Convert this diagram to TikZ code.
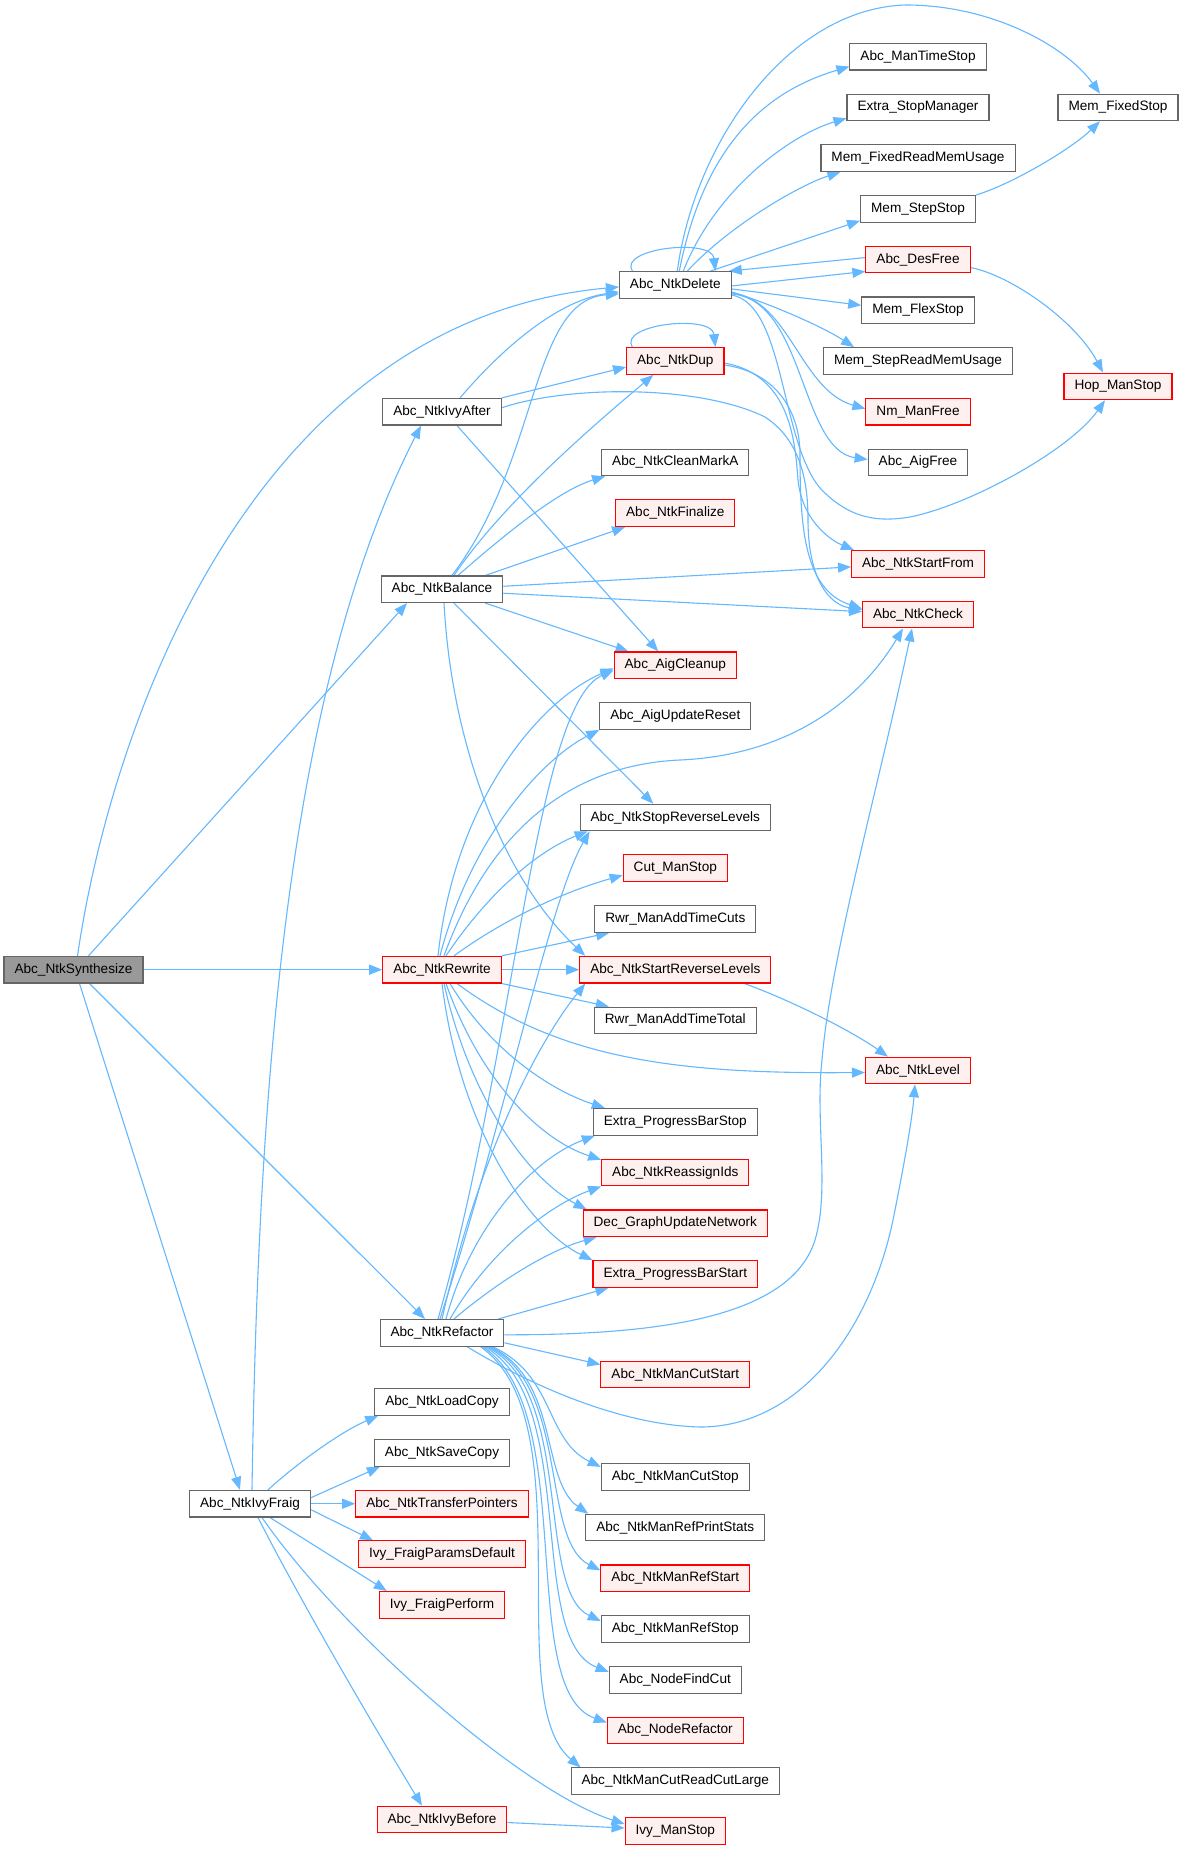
\documentclass[tikz,border=0pt]{standalone}
\usepackage{fontspec}
\setmainfont{Liberation Sans}
\usetikzlibrary{arrows.meta}
\definecolor{edgeblue}{RGB}{99,184,255}
\definecolor{boxgray}{RGB}{102,102,102}
\definecolor{redfill}{RGB}{255,240,240}
\definecolor{rootfill}{RGB}{153,153,153}
\pgfdeclarelayer{bg}
\pgfsetlayers{bg,main}
\tikzset{
  basebox/.style={draw, line width=1.1pt, minimum height=26.6pt, inner xsep=10.5pt, inner ysep=0pt,
    text height=10pt, text depth=3pt, font=\fontsize{13.6}{16}\selectfont},
  fn/.style={basebox, draw=boxgray, fill=white},
  fr/.style={basebox, draw=red, fill=redfill},
  froot/.style={basebox, draw=boxgray, fill=rootfill},
  cedge/.style={draw=edgeblue, line width=1.1pt, -{Triangle[length=13pt,width=10pt]}},
}
\begin{document}
\begin{tikzpicture}[x=1pt,y=-1pt]
\useasboundingbox (0,0) rectangle (1182,1849);
% column 1
\node[froot] (synth) at (73.5,969.66) {Abc\_NtkSynthesize};
\node[fn] (ivyfraig) at (250,1503.7) {Abc\_NtkIvyFraig};
% column 2
\node[fn] (ivyafter) at (442,411.74) {Abc\_NtkIvyAfter};
\node[fn] (balance) at (442,589.26) {Abc\_NtkBalance};
\node[fr] (rewrite) at (442,969.66) {Abc\_NtkRewrite};
\node[fn] (refactor) at (442,1332.8) {Abc\_NtkRefactor};
\node[fn] (loadcopy) at (442,1401.9) {Abc\_NtkLoadCopy};
\node[fn] (savecopy) at (442,1452.9) {Abc\_NtkSaveCopy};
\node[fr] (transfer) at (442,1503.7) {Abc\_NtkTransferPointers};
\node[fr] (fparams) at (442,1554.2) {Ivy\_FraigParamsDefault};
\node[fr] (fperform) at (442,1604.8) {Ivy\_FraigPerform};
\node[fr] (ivybefore) at (442,1819.5) {Abc\_NtkIvyBefore};
% column 3
\node[fn] (delete) at (675.3,284.94) {Abc\_NtkDelete};
\node[fr] (dup) at (675.3,361.02) {Abc\_NtkDup};
\node[fn] (cleanmarka) at (675.3,462.46) {Abc\_NtkCleanMarkA};
\node[fr] (finalize) at (675.3,513.18) {Abc\_NtkFinalize};
\node[fr] (aigcleanup) at (675.3,665.34) {Abc\_AigCleanup};
\node[fn] (aigupdatereset) at (675.3,716.06) {Abc\_AigUpdateReset};
\node[fn] (stoprev) at (675.3,817.5) {Abc\_NtkStopReverseLevels};
\node[fr] (cutmanstop) at (675.3,868.22) {Cut\_ManStop};
\node[fn] (addtimecuts) at (675.3,918.94) {Rwr\_ManAddTimeCuts};
\node[fr] (startrev) at (675.3,969.66) {Abc\_NtkStartReverseLevels};
\node[fn] (addtimetotal) at (675.3,1020.38) {Rwr\_ManAddTimeTotal};
\node[fn] (pbstop) at (675.3,1121.82) {Extra\_ProgressBarStop};
\node[fr] (reassign) at (675.3,1172.54) {Abc\_NtkReassignIds};
\node[fr] (decgraph) at (675.3,1223.26) {Dec\_GraphUpdateNetwork};
\node[fr] (pbstart) at (675.3,1273.98) {Extra\_ProgressBarStart};
\node[fr] (mancutstart) at (675.3,1374.5) {Abc\_NtkManCutStart};
\node[fn] (mancutstop) at (675.3,1476.86) {Abc\_NtkManCutStop};
\node[fn] (refprint) at (675.3,1527.58) {Abc\_NtkManRefPrintStats};
\node[fr] (refstart) at (675.3,1578.3) {Abc\_NtkManRefStart};
\node[fn] (refstop) at (675.3,1629.02) {Abc\_NtkManRefStop};
\node[fn] (nodefindcut) at (675.3,1679.74) {Abc\_NodeFindCut};
\node[fr] (noderefactor) at (675.3,1730.46) {Abc\_NodeRefactor};
\node[fn] (cutlarge) at (675.3,1781.18) {Abc\_NtkManCutReadCutLarge};
\node[fr] (ivymanstop) at (675.3,1831) {Ivy\_ManStop};
% column 4
\node[fn] (mantimestop) at (918,56.7) {Abc\_ManTimeStop};
\node[fn] (extrastop) at (918,107.42) {Extra\_StopManager};
\node[fn] (memfixedread) at (918,158.14) {Mem\_FixedReadMemUsage};
\node[fn] (memstepstop) at (918,208.86) {Mem\_StepStop};
\node[fr] (desfree) at (918,259.58) {Abc\_DesFree};
\node[fn] (memflexstop) at (918,310.3) {Mem\_FlexStop};
\node[fn] (memstepread) at (918,361.02) {Mem\_StepReadMemUsage};
\node[fr] (nmmanfree) at (918,411.74) {Nm\_ManFree};
\node[fn] (aigfree) at (918,462.46) {Abc\_AigFree};
\node[fr] (startfrom) at (918,563.9) {Abc\_NtkStartFrom};
\node[fr] (ntkcheck) at (918,614.62) {Abc\_NtkCheck};
\node[fr] (ntklevel) at (918,1070.5) {Abc\_NtkLevel};
% column 5
\node[fn] (memfixedstop) at (1118,107.42) {Mem\_FixedStop};
\node[fr] (hopmanstop) at (1118,386.38) {Hop\_ManStop};

\begin{pgfonlayer}{bg}
\fill[white] (0,0) rectangle (1182,1849);
% Synthesize
\draw[cedge] ([xshift=4pt]synth.north) .. controls (112,720) and (255,320) .. ([yshift=-2pt]delete.west);
\draw[cedge] ([xshift=15pt]synth.north) -- ([xshift=-35pt]balance.south);
\draw[cedge] (synth.east) -- (rewrite.west);
\draw[cedge] ([xshift=16pt]synth.south) -- ([xshift=-17pt]refactor.north);
\draw[cedge] ([xshift=6pt]synth.south) -- ([xshift=-10pt]ivyfraig.north);
% IvyFraig
\draw[cedge] ([xshift=2pt]ivyfraig.north) .. controls (258,1100) and (285,690) .. ([xshift=-21pt]ivyafter.south);
\draw[cedge] ([xshift=18pt]ivyfraig.north) .. controls (295,1465) and (340,1432) .. ([xshift=4pt]loadcopy.south west);
\draw[cedge] ([yshift=6pt]ivyfraig.east) -- ([xshift=6pt]savecopy.south west);
\draw[cedge] (ivyfraig.east) -- (transfer.west);
\draw[cedge] ([yshift=-6pt]ivyfraig.east) -- ([xshift=15pt]fparams.north west);
\draw[cedge] ([xshift=20pt]ivyfraig.south) -- ([xshift=8pt]fperform.north west);
\draw[cedge] ([xshift=8pt]ivyfraig.south) .. controls (300,1600) and (370,1720) .. ([xshift=-20pt]ivybefore.north);
\draw[cedge] ([xshift=12pt]ivyfraig.south) .. controls (340,1630) and (520,1790) .. ([yshift=7pt]ivymanstop.west);
\draw[cedge] ([yshift=-3pt]ivybefore.east) -- ([yshift=3pt]ivymanstop.west);
% IvyAfter
\draw[cedge] ([xshift=18pt]ivyafter.north) .. controls (505,345) and (560,300) .. ([yshift=-7pt]delete.west);
\draw[cedge] (ivyafter.north east) -- ([yshift=-6pt]dup.west);
\draw[cedge] ([yshift=4pt]ivyafter.east) .. controls (570,385) and (700,385) .. (765,417) .. controls (800,440) and (808,480) .. (808,520) .. controls (808,580) and (830,605) .. ([yshift=5pt]ntkcheck.west);
\draw[cedge] ([xshift=15pt]ivyafter.south) -- ([xshift=-17pt]aigcleanup.north);
% Delete
\draw[cedge] ([xshift=-43pt]delete.north) .. controls (618,248) and (712,238) .. ([xshift=40pt]delete.north);
\draw[cedge] ([xshift=4pt]delete.north) .. controls (705,140) and (770,90) .. ([yshift=4pt]mantimestop.south west);
\draw[cedge] ([xshift=8pt]delete.north) .. controls (715,190) and (790,135) .. ([yshift=3pt]extrastop.south west);
\draw[cedge] ([xshift=12pt]delete.north) .. controls (730,225) and (800,185) .. ([xshift=20pt]memfixedread.south west);
\draw[cedge] ([xshift=35pt]delete.north) -- ([yshift=2pt]memstepstop.south west);
\draw[cedge] ([yshift=2pt]desfree.west) -- ([xshift=-3pt]delete.north east);
\draw[cedge] ([yshift=-1pt]delete.east) -- ([yshift=2pt]desfree.south west);
\draw[cedge] ([yshift=-4pt]delete.east) -- ([yshift=5pt]memflexstop.west);
\draw[cedge] ([yshift=-7pt]delete.east) .. controls (765,302) and (820,325) .. ([xshift=31pt]memstepread.north west);
\draw[cedge] ([yshift=-8pt]delete.east) .. controls (790,300) and (800,390) .. ([yshift=3pt]nmmanfree.west);
\draw[cedge] ([yshift=-9pt]delete.east) .. controls (805,300) and (800,450) .. ([yshift=3pt]aigfree.west);
\draw[cedge] ([xshift=2pt]delete.north) .. controls (695,140) and (790,8) .. (906,5) .. controls (990,5) and (1065,45) .. ([xshift=-18pt]memfixedstop.north);
\draw[cedge] ([yshift=-10pt]delete.east) .. controls (785,305) and (780,440) .. (820,488) .. controls (850,520) and (880,522) .. (910,517) .. controls (970,505) and (1070,450) .. ([xshift=-13pt]hopmanstop.south);
% Dup
\draw[cedge] ([xshift=-43pt]dup.north) .. controls (618,324) and (712,314) .. ([xshift=40pt]dup.north);
\draw[cedge] ([yshift=-2pt]dup.east) .. controls (790,375) and (795,440) .. (798,480) .. controls (802,520) and (830,540) .. ([xshift=3pt]startfrom.north west);
\draw[cedge] ([yshift=-4pt]dup.east) .. controls (775,372) and (800,410) .. (800,455) .. controls (800,530) and (805,590) .. ([yshift=6pt]ntkcheck.west);
% Balance
\draw[cedge] ([xshift=10pt]balance.north) .. controls (540,460) and (530,300) .. ([yshift=-9pt]delete.west);
\draw[cedge] ([xshift=12pt]balance.north) .. controls (505,500) and (600,420) .. ([xshift=-22pt]dup.south);
\draw[cedge] ([xshift=16pt]balance.north) .. controls (510,530) and (560,490) .. ([xshift=4pt]cleanmarka.south west);
\draw[cedge] ([xshift=-18pt]balance.north east) -- ([xshift=10pt]finalize.south west);
\draw[cedge] ([yshift=3pt]balance.east) -- ([yshift=-3pt]startfrom.west);
\draw[cedge] ([yshift=-4pt]balance.east) -- ([yshift=3pt]ntkcheck.west);
\draw[cedge] ([xshift=-18pt]balance.south east) -- ([xshift=15pt]aigcleanup.north west);
\draw[cedge] ([xshift=12pt]balance.south) -- ([xshift=-22pt]stoprev.north);
\draw[cedge] ([xshift=2pt]balance.south) .. controls (452,750) and (505,880) .. ([xshift=6pt]startrev.north west);
% Rewrite
\draw[cedge] ([xshift=-4pt]rewrite.north) .. controls (455,800) and (540,700) .. ([yshift=-3pt]aigcleanup.west);
\draw[cedge] ([xshift=-2pt]rewrite.north) .. controls (470,840) and (540,760) .. (aigupdatereset.south west);
\draw[cedge] ([xshift=2pt]rewrite.north) .. controls (490,830) and (570,765) .. (680,760) .. controls (790,755) and (860,700) .. ([xshift=-15pt]ntkcheck.south);
\draw[cedge] ([xshift=4pt]rewrite.north) .. controls (490,890) and (540,850) .. ([xshift=8pt]stoprev.south west);
\draw[cedge] ([xshift=12pt]rewrite.north) .. controls (510,915) and (570,890) .. ([yshift=-7pt]cutmanstop.west);
\draw[cedge] (rewrite.north east) -- ([xshift=15pt]addtimecuts.south west);
\draw[cedge] (rewrite.east) -- (startrev.west);
\draw[cedge] (rewrite.south east) -- ([xshift=15pt]addtimetotal.north west);
\draw[cedge] ([xshift=15pt]rewrite.south) .. controls (560,1060) and (680,1074) .. ([yshift=-2pt]ntklevel.west);
\draw[cedge] ([xshift=8pt]rewrite.south) .. controls (490,1050) and (550,1090) .. ([xshift=12pt]pbstop.north west);
\draw[cedge] ([xshift=4pt]rewrite.south) .. controls (480,1080) and (540,1140) .. ([yshift=-1pt]reassign.north west);
\draw[cedge] ([xshift=2pt]rewrite.south) .. controls (470,1100) and (530,1180) .. ([xshift=4pt]decgraph.north west);
\draw[cedge] (rewrite.south) .. controls (460,1130) and (530,1230) .. (pbstart.north west);
% StartReverseLevels
\draw[cedge] ([xshift=-27pt]startrev.south east) .. controls (790,1000) and (850,1030) .. ([xshift=-30pt]ntklevel.north);
% Refactor
\draw[cedge] ([xshift=-4pt]refactor.north) .. controls (515,1050) and (535,705) .. ([yshift=-5pt]aigcleanup.west);
\draw[cedge] ([xshift=-2pt]refactor.north) .. controls (510,1100) and (550,900) .. ([xshift=10pt]stoprev.south west);
\draw[cedge] (refactor.north) .. controls (480,1150) and (540,1040) .. ([xshift=6pt]startrev.south west);
\draw[cedge] ([xshift=4pt]refactor.north) .. controls (470,1230) and (530,1160) .. ([xshift=2pt]pbstop.south west);
\draw[cedge] ([xshift=8pt]refactor.north) .. controls (490,1250) and (550,1205) .. (reassign.south west);
\draw[cedge] ([xshift=12pt]refactor.north) .. controls (500,1280) and (550,1250) .. ([xshift=14pt]decgraph.south west);
\draw[cedge] ([xshift=-6pt]refactor.north east) -- ([xshift=16pt]pbstart.south west);
\draw[cedge] ([yshift=-2pt]refactor.east) .. controls (650,1335) and (790,1320) .. (815,1240) .. controls (830,1190) and (815,1120) .. (822,1060) .. controls (830,960) and (880,780) .. ([xshift=-6pt]ntkcheck.south);
\draw[cedge] ([yshift=-10pt]refactor.east) -- ([yshift=10pt]mancutstart.west);
\draw[cedge] ([xshift=25pt]refactor.south) .. controls (530,1385) and (620,1425) .. (700,1427) .. controls (800,1427) and (870,1330) .. (893,1220) .. controls (905,1160) and (912,1120) .. ([xshift=-3pt]ntklevel.south);
\draw[cedge] ([xshift=-12pt]refactor.south east) .. controls (555,1375) and (545,1440) .. ([yshift=10pt]mancutstop.west);
\draw[cedge] ([xshift=-14pt]refactor.south east) .. controls (560,1380) and (540,1480) .. ([xshift=3pt]refprint.north west);
\draw[cedge] ([xshift=-16pt]refactor.south east) .. controls (570,1385) and (540,1540) .. ([yshift=8pt]refstart.west);
\draw[cedge] ([xshift=-18pt]refactor.south east) .. controls (575,1390) and (535,1590) .. ([yshift=8pt]refstop.west);
\draw[cedge] ([xshift=-20pt]refactor.south east) .. controls (580,1400) and (525,1640) .. ([yshift=8pt]nodefindcut.west);
\draw[cedge] ([xshift=-22pt]refactor.south east) .. controls (580,1410) and (515,1690) .. ([yshift=8pt]noderefactor.west);
\draw[cedge] ([xshift=-24pt]refactor.south east) .. controls (585,1420) and (500,1700) .. ([xshift=10pt]cutlarge.north west);
% right side
\draw[cedge] (memstepstop.north east) .. controls (1010,185) and (1070,150) .. ([xshift=-18pt]memfixedstop.south);
\draw[cedge] ([yshift=-8pt]desfree.east) .. controls (1010,275) and (1075,320) .. ([xshift=-15pt]hopmanstop.north);
\end{pgfonlayer}
\end{tikzpicture}
\end{document}
